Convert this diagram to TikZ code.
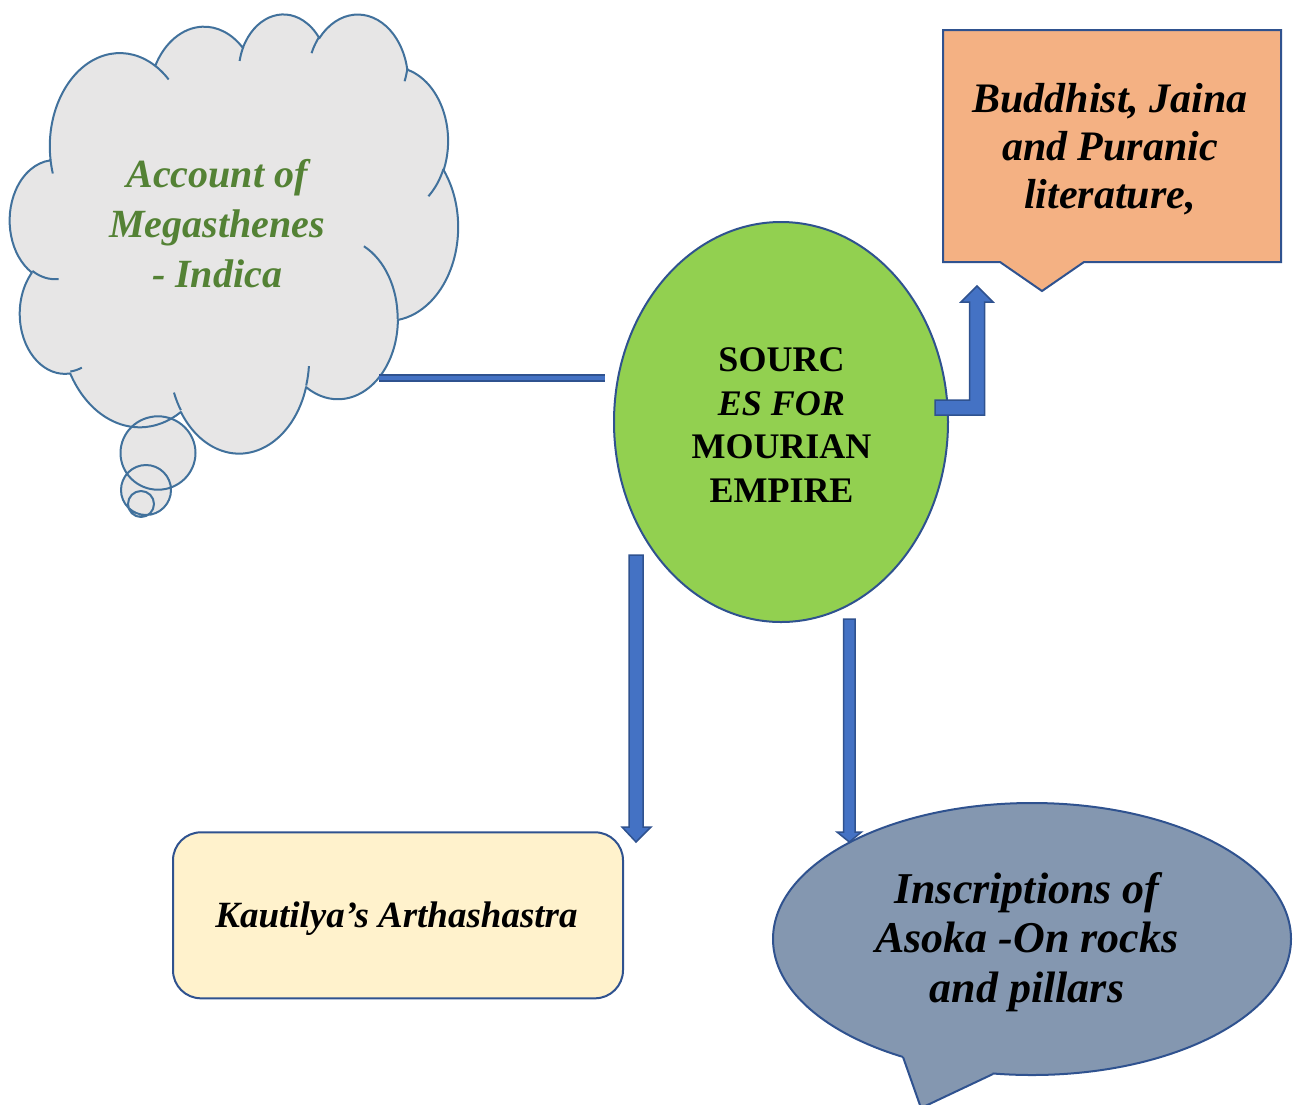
\documentclass[tikz,border=0pt]{standalone}
\usepackage{fontspec}
\setmainfont{Liberation Serif}
\usetikzlibrary{shapes.geometric}

\definecolor{cloudfill}{HTML}{E7E6E6}
\definecolor{cloudedge}{HTML}{41719C}
\definecolor{cloudtext}{HTML}{548235}
\definecolor{shapeedge}{HTML}{2F528F}
\definecolor{srcgreen}{HTML}{92D050}
\definecolor{litorange}{HTML}{F4B183}
\definecolor{notecream}{HTML}{FFF2CC}
\definecolor{inscgray}{HTML}{8497B0}
\definecolor{arrowblue}{HTML}{4472C4}

\tikzset{
  % elliptical arc given by its visual start angle and sweep
  declare function={ooang(\t,\w,\h)=atan2(\w*sin(\t),\h*cos(\t))+360*round((\t-atan2(\w*sin(\t),\h*cos(\t)))/360);},
  puff/.style n args={4}{insert path={arc[x radius=#1, y radius=#2, start angle={ooang(#3,#1,#2)}, end angle={ooang(#3+#4,#1,#2)}]}},
  outline/.style={draw=shapeedge, line width=2},
  blockarrow/.style={fill=arrowblue, draw=shapeedge, line width=1.5, line join=miter},
  txt/.style={inner sep=0, align=center},
}

\begin{document}
\begin{tikzpicture}[x=1pt, y=-1pt, line join=round]
\useasboundingbox (0,0) rectangle (1293,1104);

% ---- thought cloud ----
\fill[cloudfill] (158,453) ellipse[x radius=37.5, y radius=36.7]
                 (146,490) ellipse[radius=25]
                 (141,504) ellipse[radius=13];
\begin{scope}[shift={(10,13)}, x=0.103704pt, y=-0.101620pt]
  \path[fill=cloudfill, draw=cloudedge, line width=2]
    (390,1437)
    [puff={675.3}{919.0}{-190.4875}{123.7805}]
    [puff={533.3}{726.7}{-144.1024}{89.9452}]
    [puff={436.5}{594.5}{-145.8079}{99.7230}]
    [puff={485.7}{659.5}{-130.9861}{117.2417}]
    [puff={533.3}{727.3}{-78.7089}{109.0269}]
    [puff={677.5}{922.0}{-46.2673}{130.2690}]
    [puff={578.5}{786.7}{0.6250}{114.0333}]
    [puff={675.2}{921.5}{22.4516}{115.1726}]
    [puff={772.0}{1054.3}{66.2426}{75.7110}]
    [puff={436.0}{591.8}{-274.9421}{146.7356}]
    [puff={434.5}{594.5}{-246.8285}{152.5189}]
    -- cycle;
  \draw[cloudedge, line width=2]
    (469.3,2617.7) [puff={434.5}{594.5}{86.742}{26.4295}]
    (692.8,3489.9) [puff={436.0}{591.8}{73.6105}{11.4475}]
    (1647.8,3909.0) [puff={675.2}{921.5}{137.6242}{14.0811}]
    (2882.7,3475.1) [puff={675.2}{921.5}{6.4533}{15.9984}]
    (3412.9,2295.4) [puff={578.5}{786.7}{-70.2924}{70.9174}]
    (4179.8,1535.4) [puff={533.3}{727.3}{30.3180}{27.7515}]
    (3832.4,542.6) [puff={485.7}{659.5}{13.7443}{14.8589}]
    (2907.8,395.2) [puff={485.7}{659.5}{-149.1815}{18.1954}]
    (2214.1,472.0) [puff={436.5}{594.5}{-163.4943}{17.6864}]
    (1400.0,519.2) [puff={675.3}{919.0}{-66.7070}{12.3194}]
    (412.7,1578.9) [puff={675.3}{919.0}{157.6544}{11.8582}];
\end{scope}
\draw[cloudedge, line width=2] (158,453) ellipse[x radius=37.5, y radius=36.7]
                               (146,490) ellipse[radius=25]
                               (141,504) ellipse[radius=13];
\node[txt, text=cloudtext, font=\fontsize{40}{50}\selectfont\bfseries\itshape]
  (megas) at (217,223.5) {Account of\\Megasthenes\\- Indica};

% ---- central ellipse ----
\node[ellipse, fill=srcgreen, outline, minimum width=334, minimum height=400, inner sep=0]
  (src) at (781,422) {};
\node[txt, font=\fontsize{36}{43.5}\selectfont\bfseries]
  (srclabel) at (781.5,425) {SOURC\\\textit{ES FOR}\\MOURIAN\\EMPIRE};

% ---- literature callout ----
\path[fill=litorange, outline, line join=miter]
  (943,30) -- (1281,30) -- (1281,262) -- (1084,262) -- (1042,291) -- (1000,262) -- (943,262) -- cycle;
\node[txt, font=\fontsize{42}{48}\selectfont\bfseries\itshape]
  (lit) at (1110,149) {Buddhist, Jaina\\and Puranic\\literature,};

% ---- Arthashastra box ----
\node[rectangle, rounded corners=28, fill=notecream, outline, minimum width=450,
      minimum height=166, inner sep=0] (kaut) at (398,915.3) {};
\node[txt, font=\fontsize{37}{44}\selectfont\bfseries\itshape]
  (kautlabel) at (396.5,919) {Kautilya’s Arthashastra};

% ---- inscriptions speech bubble ----
\node[ellipse, fill=inscgray, outline, minimum width=518, minimum height=272, inner sep=0]
  (insc) at (1032,939) {};
\fill[inscgray] (903,1057) -- (921,1108) -- (993,1074) -- (985,1045) -- (910,1040) -- cycle;
\draw[outline] (903,1057) -- (921,1108) -- (993,1074);
\node[txt, font=\fontsize{44}{49.5}\selectfont\bfseries\itshape]
  (insclabel) at (1027,942) {Inscriptions of\\Asoka -On rocks\\and pillars};

% ---- connectors ----
\coordinate (lineA) at (379,378);
\coordinate (lineB) at (605,378);
\draw[draw=shapeedge, line width=1.6, double=arrowblue, double distance=4.8] (lineA) -- (lineB);

% bent arrow up to the literature callout
\draw[blockarrow] (935,400) -- (969.5,400) -- (969.5,302) -- (961,302) -- (977,286)
  -- (993,302) -- (984.5,302) -- (984.5,415) -- (935,415) -- cycle;

% down arrow to the Arthashastra box
\draw[blockarrow] (629,555) -- (643,555) -- (643,827) -- (651,827) -- (636,842)
  -- (622,827) -- (629,827) -- cycle;

% down arrow to the inscriptions bubble
\draw[blockarrow] (843.5,619) -- (855,619) -- (855,832) -- (861.5,832) -- (849.3,842)
  -- (837,832) -- (843.5,832) -- cycle;

\end{tikzpicture}
\end{document}
